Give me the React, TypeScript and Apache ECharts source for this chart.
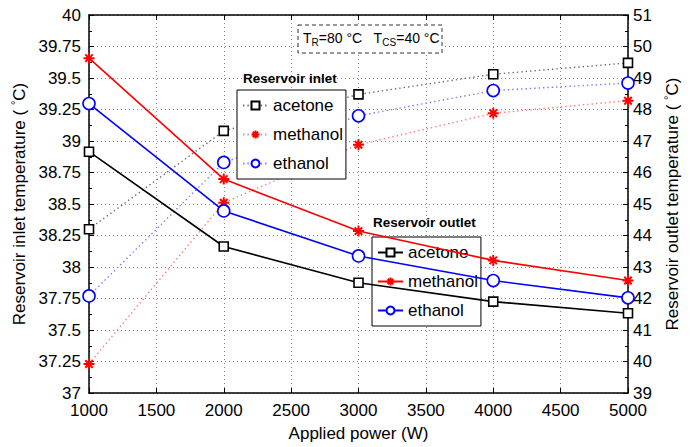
import React, { useEffect, useRef } from "react";
import * as echarts from "echarts";

const power = [1000, 2000, 3000, 4000, 5000];
const inletAcetone = [38.3, 39.08, 39.37, 39.53, 39.62];
const inletMethanol = [37.23, 38.51, 38.97, 39.22, 39.32];
const inletEthanol = [37.77, 38.83, 39.2, 39.4, 39.46];
const outletAcetone = [46.66, 43.65, 42.5, 41.9, 41.53];
const outletMethanol = [49.63, 45.79, 44.14, 43.21, 42.57];
const outletEthanol = [48.19, 44.78, 43.35, 42.57, 42.02];

const FONT = "Liberation Sans, Arial, Helvetica, sans-serif";
const ASTERISK = "path://M5,0L5,10M0,5L10,5M1.6,1.6L8.4,8.4M1.6,8.4L8.4,1.6";

const pairs = (ys: number[]) => power.map((x, i) => [x, ys[i]]);

export default function App() {
  const ref = useRef<HTMLDivElement>(null);
  useEffect(() => {
    if (!ref.current) return;
    const chart = echarts.init(ref.current, undefined, { renderer: "svg" });

    const dotted = (name: string, ys: number[], color: string, lineColor: string, symbol: string, size: number, fillColor: string, bw: number) => ({
      name,
      type: "line",
      yAxisIndex: 0,
      data: pairs(ys),
      symbol,
      symbolSize: size,
      lineStyle: { color: lineColor, width: 1.4, type: [1.4, 3] },
      itemStyle: { color: fillColor, borderColor: color, borderWidth: bw },
      z: 3,
    });
    const solid = (name: string, ys: number[], color: string, symbol: string, size: number, fillColor: string, bw: number) => ({
      name,
      type: "line",
      yAxisIndex: 1,
      data: pairs(ys),
      symbol,
      symbolSize: size,
      lineStyle: { color, width: 1.6 },
      itemStyle: { color: fillColor, borderColor: color, borderWidth: bw },
      z: 4,
    });

    const legendBase = {
      orient: "vertical",
      backgroundColor: "#fff",
      borderColor: "#000",
      borderWidth: 1,
      itemWidth: 25,
      itemHeight: 10,
      itemGap: 12,
      padding: [7, 3, 7, 5],
      textStyle: { fontFamily: FONT, fontSize: 17, color: "#000", padding: [0, 0, 0, 0] },
      formatter: (n: string) => n.split("|")[0],
      inactiveColor: "#000",
      selectedMode: false,
    };

    chart.setOption({
      animation: false,
      backgroundColor: "#fff",
      grid: { left: 89, right: 64, top: 15, bottom: 52 },
      xAxis: [
        {
          type: "value",
          min: 1000,
          max: 5000,
          interval: 500,
          name: "Applied power (W)",
          nameLocation: "middle",
          nameGap: 32,
          nameTextStyle: { fontFamily: FONT, fontSize: 17, color: "#000" },
          axisLine: { lineStyle: { color: "#000", width: 1.5 } },
          axisTick: { inside: true, length: 5, lineStyle: { color: "#000" } },
          axisLabel: { fontFamily: FONT, fontSize: 17, color: "#000", margin: 9, formatter: (v: number) => String(v) },
          splitLine: { show: true, lineStyle: { color: "#8a8a8a", type: [1, 3], width: 1 } },
        },
        {
          type: "value",
          position: "top",
          min: 1000,
          max: 5000,
          interval: 500,
          axisLine: { lineStyle: { color: "#000", width: 1.5 } },
          axisTick: { inside: true, length: 5, lineStyle: { color: "#000" } },
          axisLabel: { show: false },
          splitLine: { show: false },
        },
      ],
      yAxis: [
        {
          type: "value",
          min: 37,
          max: 40,
          interval: 0.25,
          name: "Reservoir inlet temperature ( {sup|°}C)",
          nameLocation: "middle",
          nameGap: 52,
          nameTextStyle: {
            fontFamily: FONT,
            fontSize: 17,
            color: "#000",
            rich: { sup: { fontFamily: FONT, fontSize: 11, color: "#000", verticalAlign: "top", padding: [0, 0, 8, 0] } },
          },
          axisLine: { show: true, lineStyle: { color: "#000", width: 1.5 } },
          axisTick: { inside: true, length: 5, lineStyle: { color: "#000" } },
          minorTick: { show: true, splitNumber: 2, length: 3, lineStyle: { color: "#000" } },
          axisLabel: { fontFamily: FONT, fontSize: 17, color: "#000", margin: 8 },
          splitLine: { show: true, lineStyle: { color: "#8a8a8a", type: [1, 3], width: 1 } },
        },
        {
          type: "value",
          min: 39,
          max: 51,
          interval: 1,
          position: "right",
          name: "Reservoir outlet temperature ( {sup|°}C)",
          nameLocation: "middle",
          nameGap: 18,
          nameRotate: 90,
          nameTextStyle: {
            fontFamily: FONT,
            fontSize: 17,
            color: "#000",
            rich: { sup: { fontFamily: FONT, fontSize: 11, color: "#000", verticalAlign: "top", padding: [0, 0, 8, 0] } },
          },
          axisLine: { show: true, lineStyle: { color: "#000", width: 1.5 } },
          axisTick: { inside: true, length: 5, lineStyle: { color: "#000" } },
          minorTick: { show: true, splitNumber: 2, length: 3, lineStyle: { color: "#000" } },
          axisLabel: { fontFamily: FONT, fontSize: 17, color: "#000", margin: 5 },
          splitLine: { show: false },
        },
      ],
      legend: [
        {
          ...legendBase,
          left: 237,
          top: 90,
          data: ["acetone|in", "methanol|in", "ethanol|in"],
        },
        {
          ...legendBase,
          left: 372,
          top: 237,
          data: ["acetone|out", "methanol|out", "ethanol|out"],
        },
      ],
      graphic: [
        {
          type: "text",
          left: 243,
          top: 71,
          style: { text: "Reservoir inlet", fontFamily: FONT, fontSize: 13.5, fontWeight: "bold", fill: "#000" },
          z: 10,
        },
        {
          type: "text",
          left: 373,
          top: 215,
          style: { text: "Reservoir outlet", fontFamily: FONT, fontSize: 13.5, fontWeight: "bold", fill: "#000" },
          z: 10,
        },
        {
          type: "rect",
          shape: { x: 298, y: 25, width: 144, height: 28 },
          style: { fill: "#fff", stroke: "#333", lineWidth: 1, lineDash: [4, 3] },
          z: 10,
        },
        {
          type: "text",
          x: 303,
          y: 29,
          style: {
            text: "T{sub|R}=80 °C   T{sub|CS}=40 °C",
            fontFamily: FONT,
            fontSize: 14,
            fill: "#000",
            rich: {
              sub: { fontFamily: FONT, fontSize: 10, fill: "#000", padding: [8, 0, 0, 0] },
            },
          },
          z: 11,
        },
      ],
      series: [
        dotted("acetone|in", inletAcetone, "#000", "#6e6e6e", "rect", 9, "#fff", 1.6),
        dotted("methanol|in", inletMethanol, "#ff0000", "#ff7a7a", ASTERISK, 11, "#ff0000", 2),
        dotted("ethanol|in", inletEthanol, "#0000ff", "#7a7aff", "circle", 12, "#fff", 1.6),
        solid("acetone|out", outletAcetone, "#000", "rect", 9, "#fff", 1.6),
        solid("methanol|out", outletMethanol, "#ff0000", ASTERISK, 11, "#ff0000", 2),
        solid("ethanol|out", outletEthanol, "#0000ff", "circle", 12, "#fff", 1.6),
      ],
    });
    return () => chart.dispose();
  }, []);
  return <div ref={ref} style={{ position: "fixed", left: 0, top: 0, width: 692, height: 447 }} />;
}
